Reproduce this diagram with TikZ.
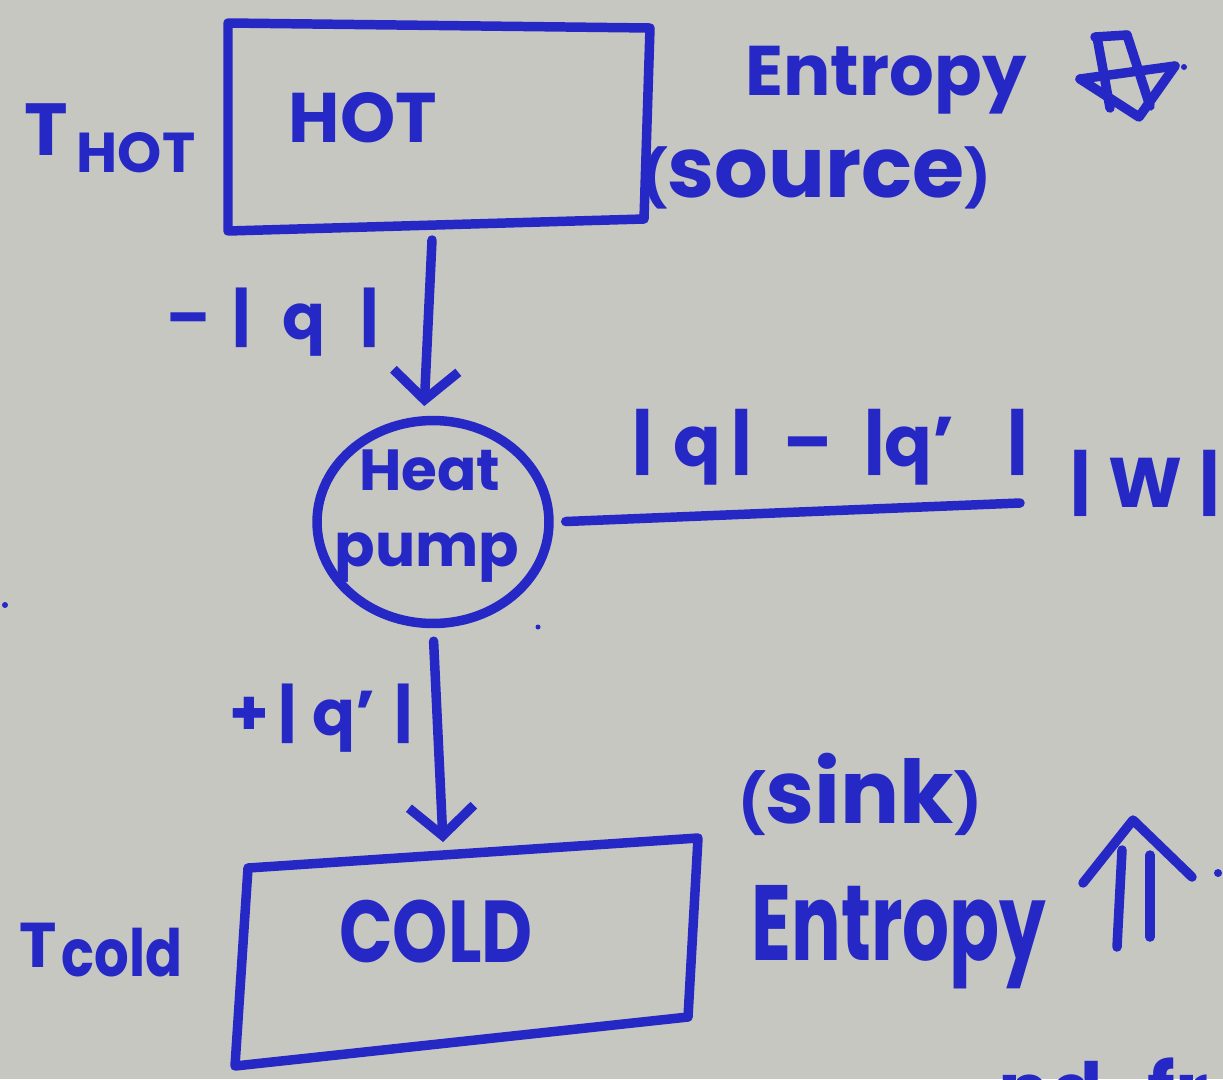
\documentclass[tikz,border=0pt]{standalone}
\usepackage{fontspec}
\usepackage{graphicx}
\setmainfont{Poppins}
\usetikzlibrary{arrows.meta,shapes.geometric}

\definecolor{board}{RGB}{198,199,192}
\definecolor{ink}{RGB}{38,40,198}

% marker lettering at a given size (pt)
\newcommand\inkat[1]{\fontsize{#1}{#1}\selectfont\bfseries}
% small hand-drawn brackets
\newcommand\lbrak{\scalebox{.66}{(}}
\newcommand\rbrak{\scalebox{.66}{)}}

\begin{document}
\begin{tikzpicture}[x=0.02cm,y=-0.02cm,
  pen/.style={draw=ink,line width=5.4pt,line cap=round,line join=round},
  lbl/.style={text=ink,inner sep=0pt,outer sep=0pt},
  flow/.style={pen,-{Straight Barb[length=0.58cm,width=1.3cm,line width=5.4pt]}}]

% whiteboard
\fill[board] (0,0) rectangle (1223,1079);
\useasboundingbox (0,0) rectangle (1223,1079);

% ---- HOT reservoir ----
\coordinate (hA) at (228,23);
\coordinate (hB) at (650,28);
\coordinate (hC) at (644,219);
\coordinate (hD) at (228,231);
\draw[pen] (hA) -- (hB) -- (hC) -- (hD) -- cycle;
\node[lbl,font=\inkat{40},anchor=base] (hot) at (363,142) {HOT};
\node[lbl,font=\inkat{42},anchor=base] (thotT) at (46,155) {T};
\node[lbl,font=\inkat{32},anchor=base] (thotS) at (136,172) {HOT};
\node[lbl,font=\inkat{40},anchor=base] (entTop) at (886,95) {Entropy};
\node[lbl,font=\inkat{48},anchor=base] (source) at (816,197) {\lbrak source\rbrak};

% entropy decreases
\draw[pen] (1095,37) -- (1127,35);
\draw[pen] (1097,37) -- (1110,108);
\draw[pen] (1127,35) -- (1150,106);
\draw[pen] (1080,79) -- (1175,66);
\draw[pen] (1080,79) -- (1139,117) -- (1175,66);
\fill[ink] (1184,67) circle[radius=0.06cm];

% ---- heat pump ----
\node[pen,ellipse,minimum width=4.64cm,minimum height=4.06cm,inner sep=0pt] (pump) at (433,522) {};
\node[lbl,font=\inkat{33}] (heatw) at (430,470) {Heat};
\node[lbl,font=\inkat{34}] (pumpw) at (427,558) {pump};

\coordinate (hotout) at (432,240);
\draw[flow,shorten >=0.2cm] (hotout) -- (pump.95);
\node[lbl,font=\inkat{36}] (qin) at (273,322) {\textendash\hspace{.35em}|\hspace{.5em}q\hspace{.55em}|};

% work
\coordinate (wend) at (1020,503);
\draw[pen,shorten <=0.24cm] (pump.east) -- (wend);
\node[lbl,font=\inkat{40}] (qdiff) at (830,447) {|\hspace{.3em}q\hspace{.15em}|\hspace{.45em}\textendash\hspace{.45em}|q'\hspace{.75em}|};
\node[lbl,font=\inkat{40}] (work) at (1145,483) {|\hspace{.25em}W\hspace{.25em}|};

% ---- COLD reservoir ----
\coordinate (cA) at (248,868);
\coordinate (cB) at (698,838);
\coordinate (cC) at (688,1017);
\coordinate (cD) at (235,1066);
\draw[pen] (cA) -- (cB) -- (cC) -- (cD) -- cycle;
\node[lbl,font=\inkat{40}] (cold) at (436,932) {\scalebox{1}[1.25]{COLD}};
\node[lbl,font=\inkat{36}] (tcoldT) at (38,945) {T};
\node[lbl,font=\inkat{31}] (tcoldS) at (122,953) {\scalebox{1}[1.2]{cold}};

\coordinate (coldin) at (443,842);
\draw[flow,shorten <=0.26cm] (pump.south) -- (coldin);
\node[lbl,font=\inkat{36}] (qout) at (321,718) {+\hspace{.15em}|\hspace{.25em}q'\hspace{.3em}|};

\node[lbl,font=\inkat{50},anchor=base] (sink) at (860,823) {\lbrak sink\rbrak};
\node[lbl,font=\inkat{42},anchor=base] (entBot) at (899,960) {\scalebox{1}[1.45]{Entropy}};

% entropy increases
\draw[pen] (1083,883) -- (1133,820) -- (1192,877);
\draw[pen] (1122,850) -- (1117,947);
\draw[pen] (1150,855) -- (1150,937);
\fill[ink] (1218,873) circle[radius=0.08cm];

% stray marks
\fill[ink] (538,627) circle[radius=0.05cm];
\fill[ink] (5,605) circle[radius=0.06cm];

% next line of writing, running off the board edge
\node[lbl,font=\inkat{44},anchor=base west] (more) at (998,1118) {nd\hspace{.58em}fr};
\end{tikzpicture}
\end{document}
